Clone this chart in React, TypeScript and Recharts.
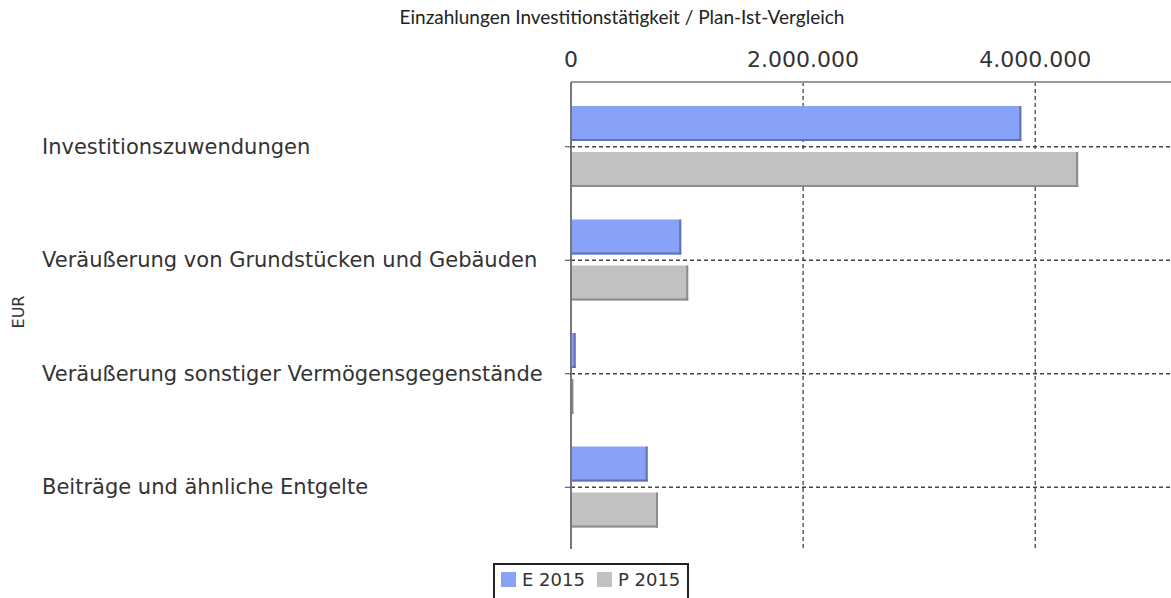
import React from "react";
import {
  Bar,
  BarChart,
  CartesianGrid,
  XAxis,
  YAxis,
} from "recharts";

const categories = [
  "Investitionszuwendungen",
  "Veräußerung von Grundstücken und Gebäuden",
  "Veräußerung sonstiger Vermögensgegenstände",
  "Beiträge und ähnliche Entgelte",
];
const e2015 = [3880000, 950000, 40000, 660000];
const p2015 = [4370000, 1010000, 20000, 750000];
const xTicks = [0, 2000000, 4000000];
const xMax = 5170000;

const seriesE = { key: "e", name: "E 2015", fill: "#87A2F6", edge: "#5E72B4" };
const seriesP = { key: "p", name: "P 2015", fill: "#C1C1C1", edge: "#8C8C8C" };

const data = categories.map((name, i) => ({ name, e: e2015[i], p: p2015[i] }));

const labelFont = "'DejaVu Sans', sans-serif";
const padTop = 8;
const padBottom = 5;

const fmt = (v: number) => String(v).replace(/\B(?=(\d{3})+(?!\d))/g, ".");

function ShadedBar(props: any) {
  const { x, y, width, height, fill, edge } = props;
  if (!width || width <= 0) return null;
  const w = Math.max(width, 0);
  return (
    <g>
      <rect x={x} y={y} width={w} height={height} fill={fill} />
      <rect x={x + w - Math.min(2, w)} y={y} width={Math.min(2, w)} height={height} fill={edge} />
      <rect x={x} y={y + height - 2} width={w} height={2} fill={edge} />
    </g>
  );
}

function CategoryTick(props: any) {
  const { y, payload } = props;
  return (
    <text
      x={42}
      y={y}
      dy={7}
      textAnchor="start"
      fill="#333"
      fontSize={21}
      fontFamily={labelFont}
    >
      {payload.value}
    </text>
  );
}

// horizontal grid only through the category centres, no border line
const categoryLines = ({ offset }: any) => {
  if (!offset) return [];
  const band = (offset.height - padTop - padBottom) / categories.length;
  return categories.map((_, i) => offset.top + padTop + band * (i + 0.5));
};

// vertical grid only at the value ticks, no right border
const valueLines = ({ offset }: any) => {
  if (!offset) return [];
  return xTicks.filter((t) => t > 0).map((t) => offset.left + (offset.width * t) / xMax);
};

export default function App() {
  return (
    <div
      style={{
        position: "absolute",
        left: 0,
        top: 0,
        width: 1171,
        height: 598,
        background: "#fff",
        overflow: "hidden",
      }}
    >
      <div
        style={{
          position: "absolute",
          left: 0,
          width: 1244,
          top: 5,
          textAlign: "center",
          fontFamily: "Lato, sans-serif",
          fontSize: 19,
          color: "#222",
        }}
      >
        Einzahlungen Investitionstätigkeit / Plan-Ist-Vergleich
      </div>
      <div
        style={{
          position: "absolute",
          left: 18,
          top: 312,
          transform: "translate(-50%, -50%) rotate(-90deg)",
          fontFamily: labelFont,
          fontSize: 16,
          color: "#333",
        }}
      >
        EUR
      </div>
      <BarChart
        width={1171}
        height={598}
        data={data}
        layout="vertical"
        barSize={35}
        barGap={11}
        margin={{ top: 52, right: 0, left: 0, bottom: 49 }}
      >
        <CartesianGrid
          stroke="#444"
          strokeWidth={1.3}
          strokeDasharray="4 3"
          horizontalCoordinatesGenerator={categoryLines}
          verticalCoordinatesGenerator={valueLines}
        />
        <XAxis
          type="number"
          orientation="top"
          domain={[0, xMax]}
          ticks={xTicks}
          tickFormatter={fmt}
          height={30}
          tickLine={false}
          tickMargin={9}
          axisLine={{ stroke: "#999", strokeWidth: 2 }}
          tick={{ fill: "#333", fontSize: 22, fontFamily: labelFont }}
        />
        <YAxis
          type="category"
          dataKey="name"
          width={571}
          padding={{ top: padTop, bottom: padBottom }}
          axisLine={{ stroke: "#777", strokeWidth: 2 }}
          tickLine={{ stroke: "#444" }}
          tickSize={6}
          tick={<CategoryTick />}
        />
        {[seriesE, seriesP].map((s) => (
          <Bar
            key={s.key}
            dataKey={s.key}
            name={s.name}
            fill={s.fill}
            isAnimationActive={false}
            shape={(p: any) => <ShadedBar {...p} fill={s.fill} edge={s.edge} />}
          />
        ))}
      </BarChart>
      <div
        style={{
          position: "absolute",
          left: 493,
          top: 563,
          width: 196,
          height: 40,
          border: "2px solid #222",
          display: "flex",
          alignItems: "flex-start",
          paddingTop: 4,
          boxSizing: "border-box",
          fontFamily: labelFont,
          fontSize: 18,
          color: "#333",
        }}
      >
        {[seriesE, seriesP].map((s, i) => (
          <div
            key={s.key}
            style={{ display: "flex", alignItems: "center", marginLeft: i === 0 ? 6 : 12 }}
          >
            <span
              style={{ display: "inline-block", width: 15, height: 15, background: s.fill, marginRight: 6 }}
            />
            {s.name}
          </div>
        ))}
      </div>
    </div>
  );
}
